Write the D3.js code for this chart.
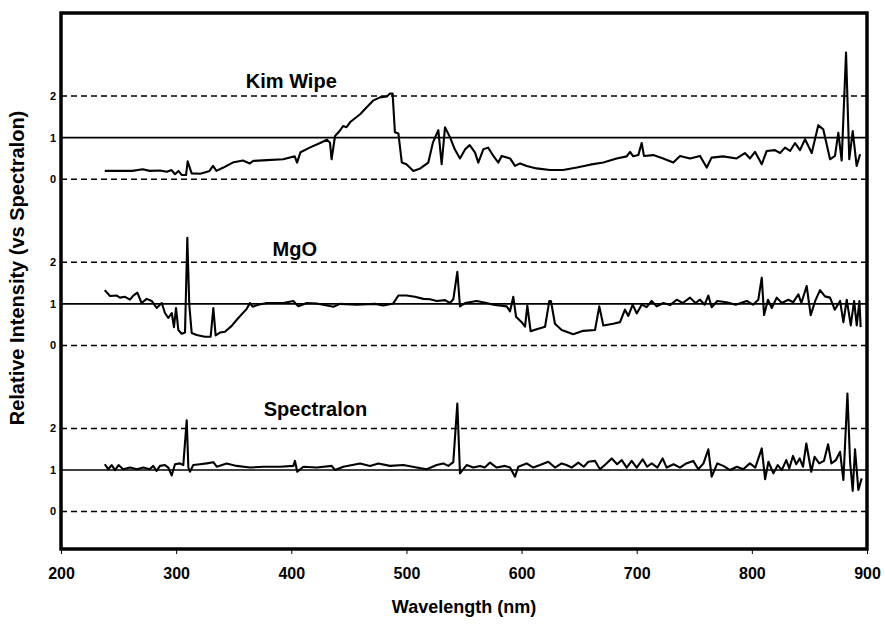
<!DOCTYPE html>
<html>
<head>
<meta charset="utf-8">
<script src="https://cdn.jsdelivr.net/npm/d3@7/dist/d3.min.js"></script>
<style>
body { margin: 0; background: #fff; }
text { font-family: Arial, "Liberation Sans", sans-serif; font-weight: bold; fill: #000; }
</style>
</head>
<body>
<div id="viz"></div>
<script>
var width = 885;
var height = 629;

// Kim Wipe spectrum (relative to Spectralon)
var kimNm = [238,250,262,271,277,286,292,296,299,302,305,308.6,310,313.5,321,329,332,335,341,350,358,364,367,379,393,403,405,408,416,425,431,433.6,435,438,442,445,448,451,460,465.5,471,477,483,485.7,488,490,493,496,500,506,512,519,523,527.7,530.6,533.5,538,542,546.5,551,555,559.6,562.4,566.8,571,575.5,579.8,582.7,590,594.3,598.7,604.5,613,624.7,636,648,659.5,671,682.6,691.3,694.2,697,701.4,704.3,706.3,714.4,723,731.8,737.6,746.3,755,760.8,765,775,786.8,794,798.4,802.7,808.6,812.9,820,824.5,828.8,833.2,837.5,841.8,846.2,852,857.7,862,867.9,872.2,875.1,878,881.8,884.6,887.6,891,894];
var kimVal = [0.2,0.2,0.2,0.24,0.2,0.21,0.18,0.22,0.12,0.2,0.1,0.1,0.43,0.14,0.13,0.2,0.32,0.2,0.28,0.41,0.45,0.38,0.44,0.46,0.48,0.55,0.4,0.65,0.76,0.87,0.95,0.88,0.48,1.04,1.16,1.28,1.25,1.37,1.57,1.73,1.89,1.97,1.99,2.06,2.06,1.13,1.1,0.4,0.36,0.2,0.26,0.4,0.88,1.18,0.36,1.25,1.0,0.72,0.5,0.72,0.82,0.64,0.4,0.72,0.76,0.56,0.4,0.56,0.5,0.32,0.38,0.32,0.26,0.22,0.22,0.28,0.35,0.4,0.5,0.55,0.66,0.55,0.58,0.87,0.56,0.58,0.5,0.4,0.56,0.5,0.56,0.28,0.52,0.55,0.5,0.63,0.5,0.66,0.36,0.68,0.7,0.63,0.76,0.68,0.87,0.7,0.96,0.63,1.3,1.2,0.48,0.56,1.12,0.45,3.05,0.48,1.16,0.32,0.6];

// MgO spectrum
var mgoNm = [238,242.6,248.4,251.2,255.6,259.9,262.8,266.3,270,274.4,278.8,283.1,287.5,290.3,293.2,296.2,298.1,299.9,301.9,304.8,307.7,309.7,311.4,313.5,317.8,325,330,332.3,334.3,338.1,342.4,348.2,354,361.3,364.1,366.4,371.4,378.6,393.1,401.8,406.1,413.4,422.1,436.6,442.3,456.8,472.7,479.9,488.6,493,500.2,507.4,514.7,520.5,526.3,533.5,537.8,540.7,544.2,546.5,550.9,561,569.7,575.5,587.1,590,592.8,595.2,600.1,603,605,607.9,613.1,620.4,624.1,625.5,629,634.8,644.9,653.5,663.8,667.5,671,679.6,685.5,689.8,692.7,696.5,700,704.3,708.6,713,717.3,723.1,729,734.7,740,746.3,751,755,759,762.2,765.1,770,778.1,786,795.5,801,805.6,808.6,810.6,814,817.3,821.6,826,831.7,836,840.4,843,847.6,851.1,855,859.2,863.5,867.9,872,876.6,879.5,882.4,885.9,888.8,891.1,893.4,894.5];
var mgoVal = [1.33,1.19,1.2,1.15,1.17,1.1,1.2,1.27,1.02,1.12,1.07,0.9,1.02,0.78,0.66,0.78,0.44,0.9,0.37,0.28,0.31,2.59,0.98,0.3,0.25,0.21,0.21,0.9,0.24,0.31,0.33,0.47,0.66,0.88,1.02,0.93,0.98,1.02,1.02,1.07,0.94,1.02,1.01,0.93,1.0,0.98,1.0,0.96,1.01,1.2,1.2,1.17,1.12,1.11,1.07,1.09,1.02,1.11,1.77,0.94,1.02,1.07,1.02,0.98,0.94,0.82,1.17,0.69,0.56,0.45,0.96,0.34,0.39,0.45,1.07,1.07,0.52,0.37,0.27,0.35,0.37,0.94,0.48,0.52,0.56,0.86,0.71,0.98,0.77,0.98,0.92,1.07,0.94,1.02,0.97,1.1,1.02,1.15,1.02,1.1,0.98,1.2,0.92,1.07,1.04,0.98,1.07,0.98,1.1,1.63,0.73,1.1,0.9,1.15,1.02,1.1,1.04,1.23,1.02,1.43,0.73,1.07,1.33,1.18,1.15,0.86,1.07,0.56,1.1,0.48,1.07,0.48,1.07,0.44];

// Spectralon spectrum
var specNm = [238,241,244,247,250,254,260,266,271.5,277,280,283,286,290.3,293.2,296.1,299,303.4,306.2,309.2,310.6,312,314.9,320.7,326.5,332.3,335.2,343.9,352.6,364.1,375.7,390.2,401.8,403.2,405.2,410.4,422.1,435.1,438,445.2,459.7,468.4,475.6,485.7,497.3,508.9,517.6,526.3,532,536.4,540.7,544.2,546.5,552.3,558.1,563.9,568,572.6,578.4,585.6,590,594.3,597.2,604.4,610.2,616,623.2,629,634.8,639,643.5,649.3,654,658,663.8,668.1,673,678.3,683,687,691.3,695.6,700,705.2,709,713,718,722.5,726,732,737.6,743,749.1,753.5,758,762.2,765.1,770,775.2,781,787,792.5,798.3,803,808.6,811.5,814.4,818.7,822.5,826,829.9,832.5,835.7,838.5,841.5,844.4,847.3,851.6,854.5,858.5,862.6,866.2,869.1,873,876.6,879.5,883,885.3,887.6,889.6,892.5,895.4];
var specVal = [1.14,1.02,1.12,1.0,1.12,1.02,1.06,1.02,1.06,1.02,1.1,0.98,1.1,1.12,1.06,0.87,1.14,1.16,1.12,2.2,1.06,0.96,1.12,1.14,1.16,1.19,1.08,1.16,1.1,1.06,1.08,1.08,1.1,1.22,0.96,1.08,1.06,1.1,1.0,1.08,1.16,1.1,1.16,1.1,1.12,1.06,1.02,1.12,1.16,1.1,1.19,2.6,0.92,1.12,1.06,1.1,1.06,1.18,1.06,1.1,1.06,0.84,1.08,1.16,1.06,1.12,1.2,1.06,1.16,1.12,1.06,1.18,1.08,1.2,1.22,1.02,1.14,1.28,1.14,1.24,1.06,1.22,1.06,1.26,1.08,1.16,1.06,1.28,1.06,1.14,1.06,1.16,1.22,1.02,1.16,1.5,0.84,1.16,1.1,1.0,1.08,1.02,1.16,1.06,1.52,0.78,1.2,0.92,1.12,1.0,1.24,1.04,1.34,1.14,1.28,1.08,1.64,0.96,1.32,1.16,1.22,1.62,1.16,1.24,1.44,0.76,2.84,1.2,0.5,1.5,0.52,0.8];

var seriesNames = ["Kim Wipe", "MgO", "Spectralon"];
var xTicks = [200, 300, 400, 500, 600, 700, 800, 900];
var yTicks = [0, 1, 2];

// stacked panels: each one is shifted up by 4 units on a shared axis
var panels = [
	{name: seriesNames[0], nm: kimNm, val: kimVal, offset: 8, titleNm: 400, titleY: 2.2},
	{name: seriesNames[1], nm: mgoNm, val: mgoVal, offset: 4, titleNm: 403, titleY: 2.16},
	{name: seriesNames[2], nm: specNm, val: specVal, offset: 0, titleNm: 421, titleY: 2.3}
];

var plotLeft = 61, plotRight = 867, plotTop = 13, plotBottom = 549;

var canvas = d3.select('#viz')
	.append('svg')
	.attr("width", width)
	.attr("height", height);

var x = d3.scaleLinear()
	.domain([200, 900])
	.range([plotLeft, plotRight]);

var y = d3.scaleLinear()
	.domain([-0.9, 12])
	.range([plotBottom, plotTop]);

var line = d3.line()
	.x(function(d){ return x(d[0]); })
	.y(function(d){ return y(d[1]); });

panels.forEach(function(p){
	var g = canvas.append("g");

	// reference lines at 0, 1, 2
	g.selectAll("line.ref")
		.data(yTicks)
		.enter()
		.append("line")
		.attr("class", "ref")
		.attr("x1", plotLeft)
		.attr("x2", plotRight)
		.attr("y1", function(d){ return y(p.offset + d); })
		.attr("y2", function(d){ return y(p.offset + d); })
		.attr("stroke", "#000")
		.attr("stroke-width", function(d){ return d == 1 ? 1.6 : 1.5; })
		.attr("stroke-dasharray", function(d){ return d == 1 ? null : "6,4"; });

	g.selectAll("text.tick")
		.data(yTicks)
		.enter()
		.append("text")
		.attr("class", "tick")
		.attr("x", plotLeft - 5)
		.attr("y", function(d){ return y(p.offset + d); })
		.attr("dy", "0.35em")
		.attr("text-anchor", "end")
		.attr("font-size", 11)
		.text(function(d){ return d; });

	var pts = p.nm.map(function(n, i){ return [n, p.val[i] + p.offset]; });

	g.append("path")
		.datum(pts)
		.attr("d", line)
		.attr("fill", "none")
		.attr("stroke", "#000")
		.attr("stroke-width", 2.1)
		.attr("stroke-linejoin", "round");

	g.append("text")
		.attr("x", x(p.titleNm))
		.attr("y", y(p.offset + p.titleY))
		.attr("text-anchor", "middle")
		.attr("font-size", 20)
		.text(p.name);
});

var xAxis = d3.axisBottom(x)
	.tickValues(xTicks)
	.tickSize(5)
	.tickPadding(14)
	.tickFormat(d3.format("d"));

var axisG = canvas.append("g")
	.attr("transform", "translate(0," + plotBottom + ")")
	.call(xAxis);
axisG.select(".domain").remove();
axisG.selectAll("text")
	.attr("font-size", 16)
	.attr("font-family", "Arial, 'Liberation Sans', sans-serif")
	.attr("font-weight", "bold");

// plot frame
canvas.append("rect")
	.attr("x", plotLeft)
	.attr("y", plotTop)
	.attr("width", plotRight - plotLeft)
	.attr("height", plotBottom - plotTop)
	.attr("fill", "none")
	.attr("stroke", "#000")
	.attr("stroke-width", 3.5);

canvas.append("text")
	.attr("x", (plotLeft + plotRight) / 2)
	.attr("y", 613)
	.attr("text-anchor", "middle")
	.attr("font-size", 18)
	.text("Wavelength (nm)");

canvas.append("text")
	.attr("transform", "translate(24," + 268 + ") rotate(-90)")
	.attr("text-anchor", "middle")
	.attr("font-size", 20)
	.text("Relative Intensity (vs Spectralon)");
</script>
</body>
</html>
